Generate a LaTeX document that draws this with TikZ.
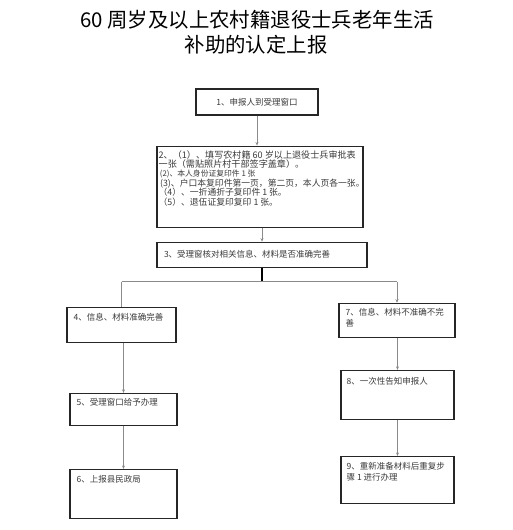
\documentclass[tikz,border=0pt]{standalone}
\usepackage{fontspec}
\newfontfamily\cjk{Noto Sans CJK SC}
\usepackage{xcolor}
\usetikzlibrary{positioning, arrows.meta}

\definecolor{linegray}{HTML}{8A8A8A}
\definecolor{textgray}{HTML}{3A3A3A}

\begin{document}
\begin{tikzpicture}[
    x=1pt, y=-1pt,
    node distance=30pt,
    stepbox/.style={rectangle, draw=black!85, line width=1.1pt, inner sep=0pt},
    boxtext/.style={anchor=north west, inner sep=0pt, align=left, text=textgray,
        font=\cjk\fontsize{8.5}{11}\selectfont},
    flow/.style={-{Stealth[length=3.5pt, width=3pt]}, draw=linegray, line width=0.8pt},
    branch/.style={draw=linegray, line width=0.8pt}
]

\useasboundingbox (0,0) rectangle (513,530);

% title
\node[font=\cjk\fontsize{20.4}{24}\selectfont] (title1) at (257,20) {60 周岁及以上农村籍退役士兵老年生活};
\node[font=\cjk\fontsize{20.4}{24}\selectfont] (title2) at (256,45) {补助的认定上报};

% main column
\node[stepbox, minimum width=122pt, minimum height=26pt, font=\cjk\fontsize{8.5}{12}\selectfont, text=textgray] (b1) at (257,102) {1、申报人到受理窗口};
\node[stepbox, minimum width=206pt, minimum height=81pt, below=30pt of b1, xshift=3pt] (b2) {};
\node[stepbox, minimum width=210pt, minimum height=25pt, below=14pt of b2, xshift=2pt,
      text width=196pt, inner xsep=7pt, align=left, text=textgray,
      font=\cjk\fontsize{8.5}{12}\selectfont] (b3) {3、受理窗核对相关信息、材料是否准确完善};

% left branch
\node[stepbox, minimum width=109pt, minimum height=35pt, below=39pt of b3, xshift=-140.5pt] (b4) {};
\node[stepbox, minimum width=107pt, minimum height=32pt, below=50pt of b4, xshift=2pt] (b5) {};
\node[stepbox, minimum width=107pt, minimum height=49pt, below=43pt of b5] (b6) {};

% right branch
\node[stepbox, minimum width=116pt, minimum height=34pt, below=35pt of b3, xshift=135pt] (b7) {};
\node[stepbox, minimum width=113pt, minimum height=49pt, below=32pt of b7, xshift=0.5pt] (b8) {};
\node[stepbox, minimum width=113pt, minimum height=47pt, below=36pt of b8] (b9) {};

% box texts
\node[boxtext, font=\cjk\fontsize{9.1}{9.4}\selectfont] (t2) at ([xshift=2pt, yshift=-4.5pt]b2.north west)
    {2、（1）、填写农村籍 60 岁以上退役士兵审批表\\
     一张（需贴照片村干部签字盖章）。\\
     {\fontsize{7.8}{9.4}\selectfont\,(2)、本人身份证复印件 1 张}\\
     {\fontsize{8.8}{9.4}\selectfont\,(3)、户口本复印件第一页，第二页，本人页各一张。}\\
     {\fontsize{8.8}{9.4}\selectfont （4）、一折通折子复印件 1 张。}\\
     {\fontsize{8.8}{9.4}\selectfont （5）、退伍证复印复印 1 张。}};
\node[boxtext] (t4) at ([xshift=7pt, yshift=-6pt]b4.north west) {4、信息、材料准确完善};
\node[boxtext] (t5) at ([xshift=7pt, yshift=-5pt]b5.north west) {5、受理窗口给予办理};
\node[boxtext] (t6) at ([xshift=7pt, yshift=-6pt]b6.north west) {6、上报县民政局};
\node[boxtext] (t7) at ([xshift=7pt, yshift=-5pt]b7.north west) {7、信息、材料不准确不完\\善};
\node[boxtext] (t8) at ([xshift=6pt, yshift=-7pt]b8.north west) {8、一次性告知申报人};
\node[boxtext] (t9) at ([xshift=6pt, yshift=-6pt]b9.north west) {9、重新准备材料后重复步\\骤 1 进行办理};

% connectors
\coordinate[below=14pt of b3.south] (fork);
\draw[flow] (b1) -- (b1 |- b2.north);
\draw[flow] (b2.south -| b3.north) -- (b3.north);
\draw[line width=1.1pt] (b3.south) -- (fork);
\draw[branch] (fork -| b4.north) -- (fork -| b7.north);
\draw[branch] (fork -| b4.north) -- (b4.north);
\draw[flow] (fork -| b7.north) -- (b7.north);
\draw[flow] (b4.south -| b5.north) -- (b5.north);
\draw[flow] (b5) -- (b6);
\draw[flow] (b7.south -| b8.north) -- (b8.north);
\draw[flow] (b8) -- (b9);

\end{tikzpicture}
\end{document}
